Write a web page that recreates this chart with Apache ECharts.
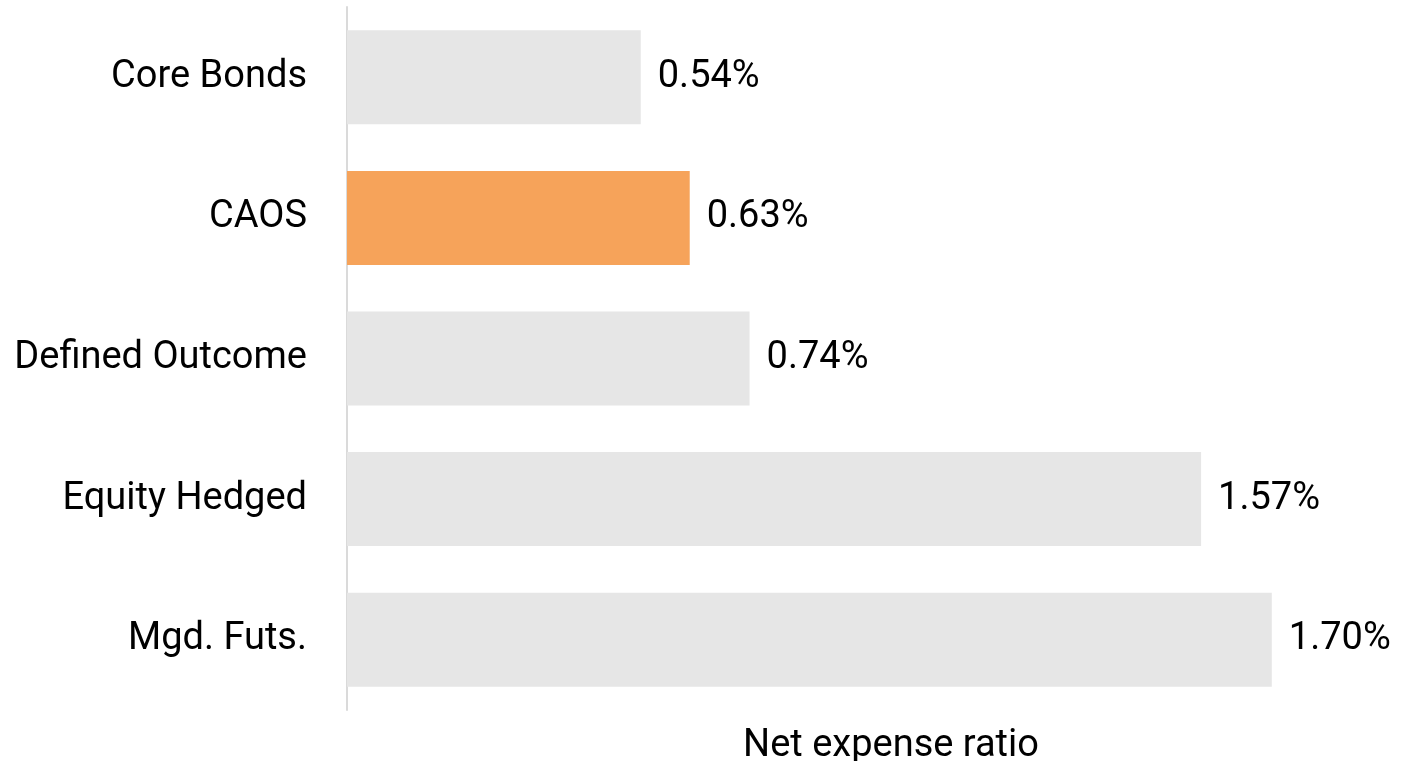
<!DOCTYPE html>
<html>
<head>
<meta charset="utf-8">
<title>Net expense ratio</title>
<script src="https://cdn.jsdelivr.net/npm/echarts@6/dist/echarts.min.js"></script>
<style>
  html, body { margin: 0; padding: 0; background: #fff; }
  #main { width: 1408px; height: 761px; }
</style>
</head>
<body>
<div id="main"></div>
<script>
// 数据
const categories = ['Core Bonds', 'CAOS', 'Defined Outcome', 'Equity Hedged', 'Mgd. Futs.'];
const ratios = [0.54, 0.63, 0.74, 1.57, 1.70];
const highlight = 'CAOS';

const fontFamily = 'Roboto, "Noto Sans", sans-serif';

const myChart = echarts.init(document.getElementById('main'));
const option = {
  backgroundColor: '#fff',
  animation: false,
  grid: {
    left: 347,
    top: 7,
    height: 703,
    width: 1088, // 原图的坐标区域超出画布右侧
    outerBoundsMode: 'none'
  },
  xAxis: {
    type: 'value',
    min: 0,
    max: 2,
    name: 'Net expense ratio',
    nameLocation: 'middle',
    nameGap: 17,
    nameTextStyle: { fontFamily, fontSize: 38, color: '#000' },
    axisLine: { show: false },
    axisTick: { show: false },
    axisLabel: { show: false },
    splitLine: { show: false }
  },
  yAxis: {
    type: 'category',
    data: categories,
    inverse: true,
    axisLine: { show: true, lineStyle: { color: '#dadada', width: 2 } },
    axisTick: { show: false },
    axisLabel: {
      margin: 40,
      padding: [8, 0, 0, 0], // 文字略微下移
      fontFamily,
      fontSize: 38,
      color: '#000'
    }
  },
  series: [{
    type: 'bar',
    barWidth: 94,
    data: ratios.map((v, i) => ({
      value: v,
      itemStyle: { color: categories[i] === highlight ? '#f6a35a' : '#e6e6e6' }
    })),
    label: {
      show: true,
      position: 'right',
      distance: 17,
      padding: [10, 0, 0, 0],
      fontFamily,
      fontSize: 38,
      color: '#000',
      formatter: (p) => p.value.toFixed(2) + '%'
    }
  }]
};
myChart.setOption(option);
</script>
</body>
</html>
